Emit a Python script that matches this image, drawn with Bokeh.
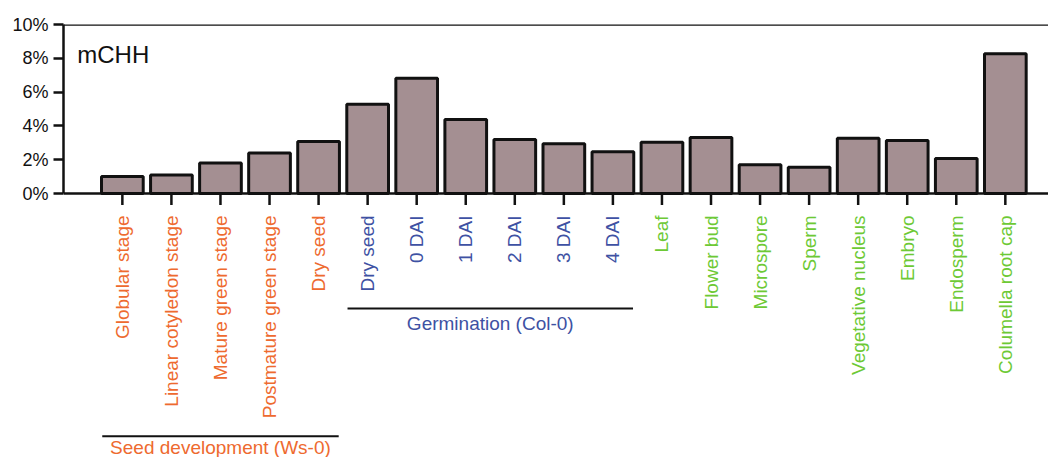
from math import pi

from bokeh.embed import file_html
from bokeh.models import FixedTicker, Label, Range1d, Span
from bokeh.plotting import figure
from bokeh.resources import INLINE

# mCHH methylation level per sample (%)
samples = [
    "Globular stage", "Linear cotyledon stage", "Mature green stage",
    "Postmature green stage", "Dry seed",
    "Dry seed", "0 DAI", "1 DAI", "2 DAI", "3 DAI", "4 DAI",
    "Leaf", "Flower bud", "Microspore", "Sperm", "Vegetative nucleus",
    "Embryo", "Endosperm", "Columella root cap",
]
mchh = [1.0, 1.1, 1.8, 2.4, 3.08, 5.28, 6.82, 4.38, 3.2, 2.94, 2.47,
        3.04, 3.31, 1.70, 1.56, 3.27, 3.14, 2.07, 8.27]
sample_group = ["seed"] * 5 + ["germ"] * 6 + ["tissue"] * 8

y_ticks = [0, 2, 4, 6, 8, 10]
y_tick_labels = ["0%", "2%", "4%", "6%", "8%", "10%"]

# group brackets: (label, first index, last index, group key)
groups = [
    ("Seed development (Ws-0)", 0, 4, "seed"),
    ("Germination (Col-0)", 5, 10, "germ"),
]

group_colors = {"seed": "#EE6A2F", "germ": "#3E51A3", "tissue": "#6DC935"}
FONT = "Liberation Sans"
INK = "#111111"

x = list(range(len(samples)))

# The frame reaches down to the bottom of the canvas so the rotated sample
# names and group brackets below the baseline are drawn inside it.
p = figure(
    width=1048, height=457,
    x_range=Range1d(-1.2, 18.88), y_range=Range1d(-15.62, 10),
    output_backend="svg", toolbar_location=None,
    x_axis_location=None,
    min_border_left=63, min_border_right=0,
    min_border_top=24, min_border_bottom=0,
)
p.outline_line_color = None
p.grid.grid_line_color = None
p.background_fill_color = "white"
p.border_fill_color = "white"

p.vbar(x=x, top=mchh, width=0.85, bottom=0,
       fill_color="#A48F92", line_color=INK, line_width=3)

# top frame line and baseline
p.add_layout(Span(location=10, dimension="width", line_color=INK, line_width=2.5))
p.add_layout(Span(location=0, dimension="width", line_color=INK, line_width=2.5))

# category ticks under the baseline
p.segment(x0=x, y0=[0] * len(x), x1=x, y1=[-0.68] * len(x),
          line_color=INK, line_width=2.5)

# y axis limited to the 0-10 % span
ya = p.yaxis[0]
ya.bounds = (0, 10)
ya.ticker = FixedTicker(ticks=y_ticks)
ya.major_label_overrides = {t: s for t, s in zip(y_ticks, y_tick_labels)}
ya.axis_line_width = 2.5
ya.axis_line_color = INK
ya.major_tick_line_width = 2.5
ya.major_tick_line_color = INK
ya.major_tick_out = 10
ya.major_tick_in = 0
ya.minor_tick_line_color = None
ya.major_label_standoff = 5
ya.major_label_text_font = FONT
ya.major_label_text_font_size = "18px"
ya.major_label_text_color = INK

for i, (name, grp) in enumerate(zip(samples, sample_group)):
    p.add_layout(Label(
        x=i, y=-1.3, text=name, angle=pi / 2,
        text_align="right", text_baseline="middle",
        text_font=FONT, text_font_size="19px",
        text_color=group_colors[grp],
    ))

group_y = {"seed": (-14.36, -15.05), "germ": (-6.80, -7.7)}
for label, i0, i1, key in groups:
    line_y, text_y = group_y[key]
    p.segment(x0=[i0 - 0.41], y0=[line_y], x1=[i1 + 0.41], y1=[line_y],
              line_color=INK, line_width=2)
    p.add_layout(Label(
        x=(i0 + i1) / 2, y=text_y, text=label,
        text_align="center", text_baseline="middle",
        text_font=FONT, text_font_size="19px",
        text_color=group_colors[key],
    ))

p.add_layout(Label(
    x=-0.92, y=8.22, text="mCHH", text_align="left",
    text_baseline="alphabetic", text_font=FONT,
    text_font_size="24px", text_color=INK,
))

open("out.html", "w").write(file_html(p, INLINE))
